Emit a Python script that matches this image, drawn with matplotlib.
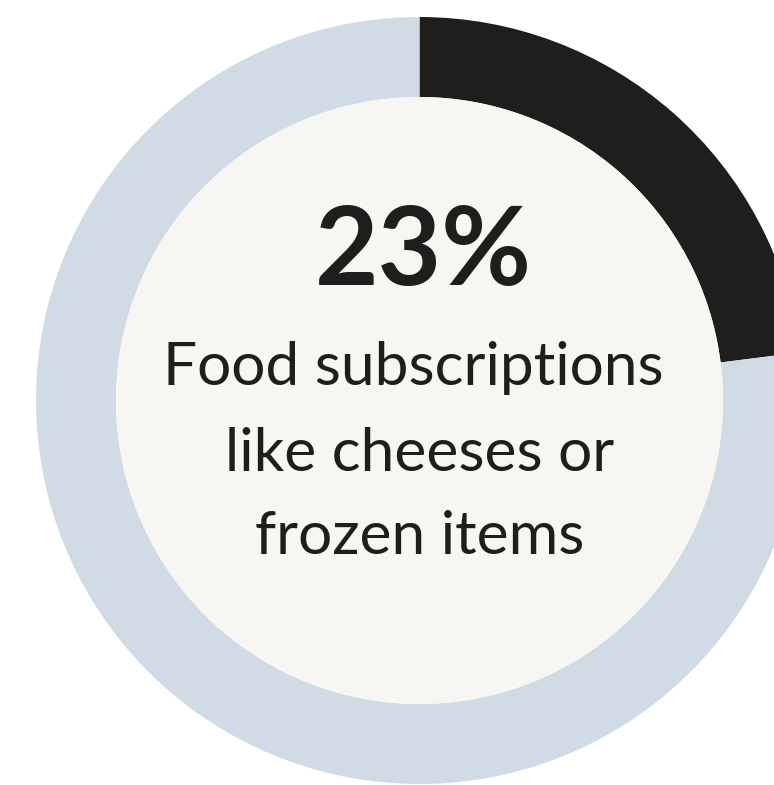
import matplotlib.pyplot as plt
from matplotlib.patches import Circle

# share of respondents, the rest of the ring is the remainder
SHARE = 23
VALUES = [SHARE, 100 - SHARE]
HEADLINE = '%d%%' % SHARE
CAPTION = ['Food subscriptions', 'like cheeses or', 'frozen items']

DARK = '#1f1e1c'
LIGHT = '#d1dbe5'
FACE = '#f7f6f3'

W, H = 774, 785
CX, CY = 419.5, 400.5
R_OUT, R_IN = 383.5, 303.5


def py(y):
    # pixel row (top-down) to axes y (bottom-up)
    return H - y


def main():
    fig = plt.figure(figsize=(W / 100, H / 100), dpi=100)
    fig.patch.set_facecolor('white')
    ax = fig.add_axes([0, 0, 1, 1])

    ax.pie(VALUES, colors=[DARK, LIGHT], startangle=90, counterclock=False,
           radius=R_OUT, center=(CX, py(CY)),
           wedgeprops=dict(width=R_OUT - R_IN, linewidth=0))
    ax.add_patch(Circle((CX, py(CY)), R_IN, facecolor=FACE, edgecolor='none'))

    ax.text(CX + 4, py(285), HEADLINE, ha='center', va='baseline',
            fontsize=79, fontweight='bold', family='Lato', color=DARK)
    offsets = [-6, 0, 0]
    for line, base, dx in zip(CAPTION, [385, 471, 554], offsets):
        ax.text(CX + dx, py(base), line, ha='center', va='baseline',
                fontsize=43.5, family='Lato', color=DARK)

    ax.set_xlim(0, W)
    ax.set_ylim(0, H)
    ax.set_aspect('auto')
    ax.axis('off')
    fig.savefig('out.png', dpi=100)


if __name__ == '__main__':
    main()
